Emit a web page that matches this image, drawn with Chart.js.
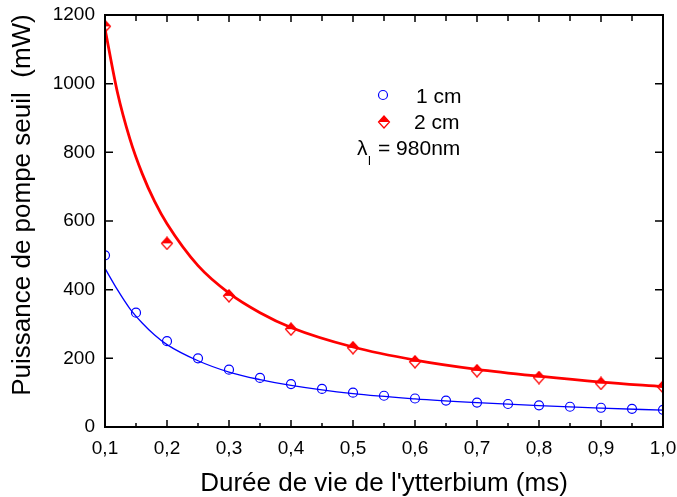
<!DOCTYPE html>
<html>
<head>
<meta charset="utf-8">
<script src="https://cdn.jsdelivr.net/npm/chart.js@4/dist/chart.umd.min.js"></script>
<style>
  html, body { margin: 0; padding: 0; background: #fff; }
  #wrap { width: 677px; height: 497px; }
</style>
</head>
<body>
<div id="wrap"><canvas id="seuilChart" width="677" height="497"></canvas></div>
<script>
// mesures (points) - durée de vie en ms, puissance seuil en mW
const tau1cm = [0.1, 0.15, 0.2, 0.25, 0.3, 0.35, 0.4, 0.45, 0.5, 0.55, 0.6, 0.65, 0.7, 0.75, 0.8, 0.85, 0.9, 0.95, 1.0];
const seuil1cm = [500, 333, 250, 200, 167, 143, 125, 111, 100, 91, 83, 77, 71, 67, 63, 59, 56, 53, 50];
const tau2cm = [0.1, 0.2, 0.3, 0.4, 0.5, 0.6, 0.7, 0.8, 0.9, 1.0];
const seuil2cm = [1167, 535, 382, 285, 231, 190, 164, 144, 127, 117];

// courbes d'ajustement
const tauFit = [0.1, 0.12, 0.14, 0.16, 0.18, 0.2, 0.25, 0.3, 0.35, 0.4, 0.5, 0.6, 0.7, 0.8, 0.9, 1.0];
const fit1cm = [462, 400, 345, 303, 268, 240, 193, 160, 138, 121, 97, 82, 71, 62, 55, 49];
const fit2cm = [1160, 975, 840, 738, 657, 592, 470, 390, 333, 290, 233, 195, 168, 148, 131, 118];

// graduations
const xTicks = [0.1, 0.2, 0.3, 0.4, 0.5, 0.6, 0.7, 0.8, 0.9, 1.0];
const yTicks = [0, 200, 400, 600, 800, 1000, 1200];

const FONT = "'Liberation Sans', Arial, Helvetica, sans-serif";
Chart.defaults.font.family = FONT;
Chart.defaults.color = '#000';

function pairs(xs, ys) {
    return xs.map((v, i) => ({ x: v, y: ys[i] }));
}

// losange à moitié plein (moitié haute pleine)
function halfDiamond(color) {
    const c = document.createElement('canvas');
    c.width = 14; c.height = 14;
    const g = c.getContext('2d');
    const m = 7, rx = 5.5, ry = 6;
    g.fillStyle = color;
    g.beginPath();
    g.moveTo(m - rx, m); g.lineTo(m, m - ry); g.lineTo(m + rx, m);
    g.closePath(); g.fill();
    g.strokeStyle = color; g.lineWidth = 1.2;
    g.beginPath();
    g.moveTo(m, m - ry); g.lineTo(m + rx, m); g.lineTo(m, m + ry); g.lineTo(m - rx, m);
    g.closePath(); g.stroke();
    return c;
}
const diamondImg = halfDiamond('#ff0000');

// cadre + graduations intérieures
const framePlugin = {
    id: 'frame',
    afterDatasetsDraw(chart) {
        const { ctx, chartArea: a, scales: { x, y } } = chart;
        ctx.save();
        ctx.strokeStyle = '#000';
        ctx.lineWidth = 1.5;
        ctx.beginPath();
        xTicks.forEach((v, i) => {
            const px = x.getPixelForValue(v);
            ctx.moveTo(px, a.bottom); ctx.lineTo(px, a.bottom - 7);
            ctx.moveTo(px, a.top); ctx.lineTo(px, a.top + 7);
            if (i < xTicks.length - 1) {
                const mx = x.getPixelForValue((v + xTicks[i + 1]) / 2);
                ctx.moveTo(mx, a.bottom); ctx.lineTo(mx, a.bottom - 4);
                ctx.moveTo(mx, a.top); ctx.lineTo(mx, a.top + 6);
            }
        });
        yTicks.forEach(v => {
            const py = y.getPixelForValue(v);
            ctx.moveTo(a.left, py); ctx.lineTo(a.left + 8, py);
            ctx.moveTo(a.right, py); ctx.lineTo(a.right - 8, py);
        });
        ctx.stroke();
        ctx.lineWidth = 2;
        ctx.strokeRect(a.left, a.top, a.right - a.left, a.bottom - a.top);
        ctx.restore();
    }
};

// légende dans le graphe + titre vertical
const legendPlugin = {
    id: 'inLegend',
    afterDraw(chart) {
        const ctx = chart.ctx;
        ctx.save();
        ctx.strokeStyle = '#0000ff';
        ctx.lineWidth = 1.2;
        ctx.beginPath();
        ctx.arc(383, 95, 4.5, 0, Math.PI * 2);
        ctx.stroke();
        ctx.drawImage(diamondImg, 384 - 7, 122 - 7);

        ctx.fillStyle = '#000';
        ctx.textBaseline = 'alphabetic';
        ctx.font = '21px ' + FONT;
        ctx.fillText('1 cm', 416, 103);
        ctx.fillText('2 cm', 414, 129);
        ctx.fillText('\u03bb', 357, 155);
        ctx.fillText('= 980nm', 378, 155);
        ctx.font = '13px ' + FONT;
        ctx.fillText('l', 368, 165);

        // titre de l'axe y
        ctx.font = '26px ' + FONT;
        ctx.textAlign = 'center';
        ctx.textBaseline = 'middle';
        ctx.translate(23, 205);
        ctx.rotate(-Math.PI / 2);
        ctx.fillText('Puissance de pompe seuil  (mW)', 0, 0);
        ctx.restore();
    }
};

const ctx = document.getElementById('seuilChart').getContext('2d');
new Chart(ctx, {
    type: 'line',
    data: {
        datasets: [
            {
                label: 'ajustement 1 cm',
                data: pairs(tauFit, fit1cm),
                borderColor: '#0000ff',
                borderWidth: 1.3,
                pointRadius: 0,
                cubicInterpolationMode: 'monotone',
                fill: false
            },
            {
                label: 'ajustement 2 cm',
                data: pairs(tauFit, fit2cm),
                borderColor: '#ff0000',
                borderWidth: 2.8,
                pointRadius: 0,
                cubicInterpolationMode: 'monotone',
                fill: false
            },
            {
                label: '1 cm',
                data: pairs(tau1cm, seuil1cm),
                showLine: false,
                pointStyle: 'circle',
                pointRadius: 4.5,
                pointBorderWidth: 1.2,
                borderColor: '#0000ff',
                backgroundColor: 'rgba(0,0,0,0)'
            },
            {
                label: '2 cm',
                data: pairs(tau2cm, seuil2cm),
                showLine: false,
                pointStyle: diamondImg,
                pointRadius: 6
            }
        ]
    },
    options: {
        responsive: false,
        animation: false,
        layout: { padding: { top: 15, right: 14, left: 0, bottom: 0 } },
        plugins: {
            legend: { display: false },
            tooltip: { enabled: false }
        },
        scales: {
            x: {
                type: 'linear',
                min: 0.1,
                max: 1.0,
                afterBuildTicks: s => { s.ticks = xTicks.map(v => ({ value: v })); },
                afterFit: s => { s.height = 70; s.paddingLeft = 0; s.paddingRight = 0; },
                grid: { display: false, drawTicks: false },
                border: { display: false },
                ticks: {
                    autoSkip: false,
                    maxRotation: 0,
                    padding: 10,
                    font: { size: 19 },
                    callback: v => v.toFixed(1).replace('.', ',')
                },
                title: {
                    display: true,
                    text: "Durée de vie de l'ytterbium (ms)",
                    font: { size: 26, lineHeight: 1 },
                    padding: { top: 0, bottom: 0 }
                }
            },
            y: {
                min: 0,
                max: 1200,
                afterBuildTicks: s => { s.ticks = yTicks.map(v => ({ value: v })); },
                afterFit: s => { s.width = 105; s.paddingTop = 0; s.paddingBottom = 0; },
                grid: { display: false, drawTicks: false },
                border: { display: false },
                ticks: {
                    padding: 10,
                    font: { size: 19 },
                    callback: v => String(v)
                }
            }
        }
    },
    plugins: [framePlugin, legendPlugin]
});
</script>
</body>
</html>
